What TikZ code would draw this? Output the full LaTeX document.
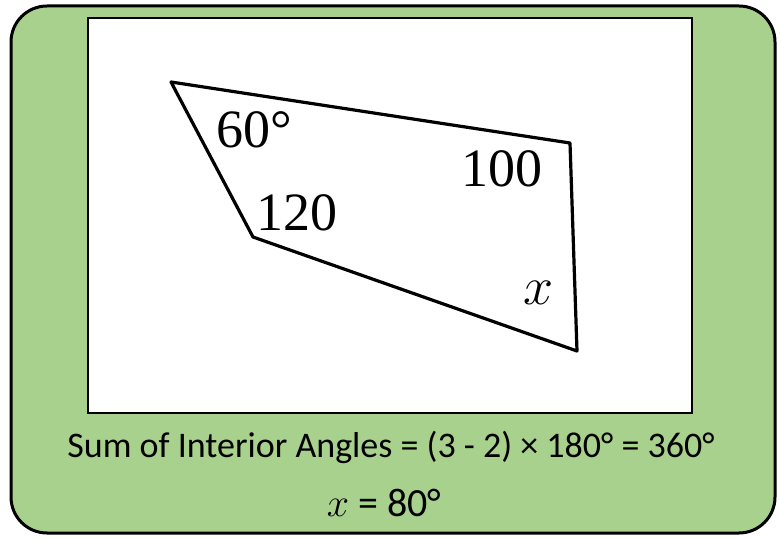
\RequirePackage{fix-cm}
\documentclass[tikz,border=0pt]{standalone}
\usepackage{fontspec}
\setmainfont{Carlito}
\newfontfamily\labfont{Liberation Serif}
\definecolor{panelgreen}{HTML}{A9D18E}
\tikzset{
  panel/.style={draw=black, line width=3pt, fill=panelgreen, rounded corners=36pt},
  frame/.style={draw=black, line width=2.5pt, fill=white},
  edge/.style={draw=black, line width=3.2pt, line join=round},
  anglab/.style={inner sep=0pt, font=\labfont\fontsize{54}{54}\selectfont},
  caption/.style={inner sep=0pt, font=\fontsize{36}{36}\selectfont},
}
\begin{document}
\begin{tikzpicture}[x=1pt,y=-1pt]
\useasboundingbox (0,0) rectangle (780,540);
\path[panel] (11,6) rectangle (775,533);
\path[frame] (88,18) rectangle (692,413);
\coordinate (A) at (171,82);
\coordinate (B) at (253,237);
\coordinate (C) at (577,351);
\coordinate (D) at (570,143);
\draw[edge] (A) -- (B) -- (C) -- (D) -- cycle;
\node[anglab] (l60) at (254,130) {60°};
\node[anglab] (l120) at (297,213) {120};
\node[anglab] (l100) at (502,169) {100};
\node[anglab, font=\fontsize{54}{54}\selectfont] (lx) at (539,293) {$x$};
\node[caption] (sum) at (391,447) {Sum of Interior Angles = (3 - 2) × 180° = 360°};
\node[caption, font=\fontsize{40}{40}\selectfont] (res) at (384,503) {$x$ = 80°};
\end{tikzpicture}
\end{document}
